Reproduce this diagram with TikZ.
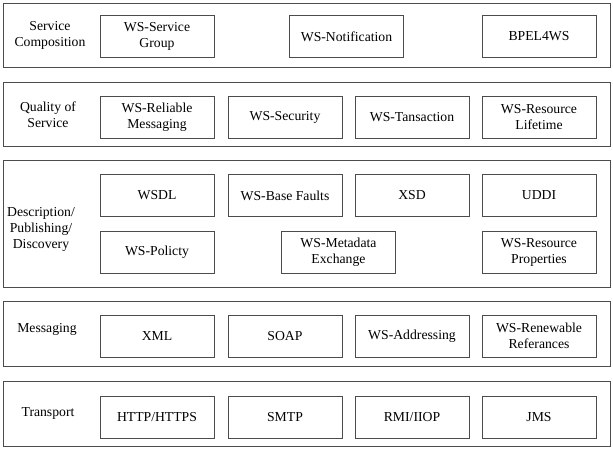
\documentclass[tikz,border=0pt]{standalone}
\usepackage{fontspec}
\setmainfont{Liberation Serif}
\newfontfamily\timesfont{Liberation Serif}
\usepackage{tikz}
\definecolor{frame}{rgb}{0.3,0.3,0.3}

\begin{document}
\begin{tikzpicture}[
  x=1pt,y=-1pt,
  layer/.style={draw=frame,line width=1.1pt,minimum width=607pt,
    inner sep=0pt,anchor=north west},
  item/.style={draw=frame,line width=0.9pt,minimum width=114pt,
    minimum height=42pt,inner sep=0pt,align=center,
    font={\timesfont\fontsize{13.7}{16}\selectfont}},
  title/.style={align=center,font={\timesfont\fontsize{13.7}{16}\selectfont}},
  ]
  \useasboundingbox (0,0) rectangle (613,450);
  % Layer frames
  \node[layer,minimum height=64pt] (compL) at (2.5,2.5) {};
  \node[layer,minimum height=64pt] (qosL) at (2.5,82) {};
  \node[layer,minimum height=127pt] (descL) at (2.5,160) {};
  \node[layer,minimum height=65pt] (msgL) at (2.5,301) {};
  \node[layer,minimum height=65pt] (transL) at (2.5,381) {};
  % Layer titles
  \node[title] (compT) at (50,35) {Service\\Composition};
  \node[title] (qosT) at (48,115) {Quality of\\Service};
  \node[title] (descT) at (41,229) {Description/\\Publishing/\\Discovery};
  \node[title] (msgT) at (47,329) {Messaging};
  \node[title] (transT) at (48,413) {Transport};
  % Service composition
  \node[item] (group) at (157,36.5) {WS-Service\\Group};
  \node[item] (notif) at (346.5,36.5) {WS-Notification};
  \node[item] (bpel) at (539,36.5) {BPEL4WS};
  % Quality of service
  \node[item] (reliable) at (157,117) {WS-Reliable\\Messaging};
  \node[item] (security) at (285,117) {WS-Security};
  \node[item] (transaction) at (412,117) {WS-Tansaction};
  \node[item] (lifetime) at (539,117) {WS-Resource\\Lifetime};
  % Description / publishing / discovery
  \node[item] (wsdl) at (157,195.5) {WSDL};
  \node[item] (faults) at (285,195.5) {WS-Base Faults};
  \node[item] (xsd) at (412,195.5) {XSD};
  \node[item] (uddi) at (539,195.5) {UDDI};
  \node[item] (policy) at (157,252) {WS-Policty};
  \node[item] (metadata) at (338.5,252) {WS-Metadata\\Exchange};
  \node[item] (props) at (539,252) {WS-Resource\\Properties};
  % Messaging
  \node[item] (xml) at (157,336) {XML};
  \node[item] (soap) at (285,336) {SOAP};
  \node[item] (addr) at (412,336) {WS-Addressing};
  \node[item] (refs) at (539,336) {WS-Renewable\\Referances};
  % Transport
  \node[item] (http) at (157,417) {HTTP/HTTPS};
  \node[item] (smtp) at (285,417) {SMTP};
  \node[item] (rmi) at (412,417) {RMI/IIOP};
  \node[item] (jms) at (539,417) {JMS};
\end{tikzpicture}
\end{document}
